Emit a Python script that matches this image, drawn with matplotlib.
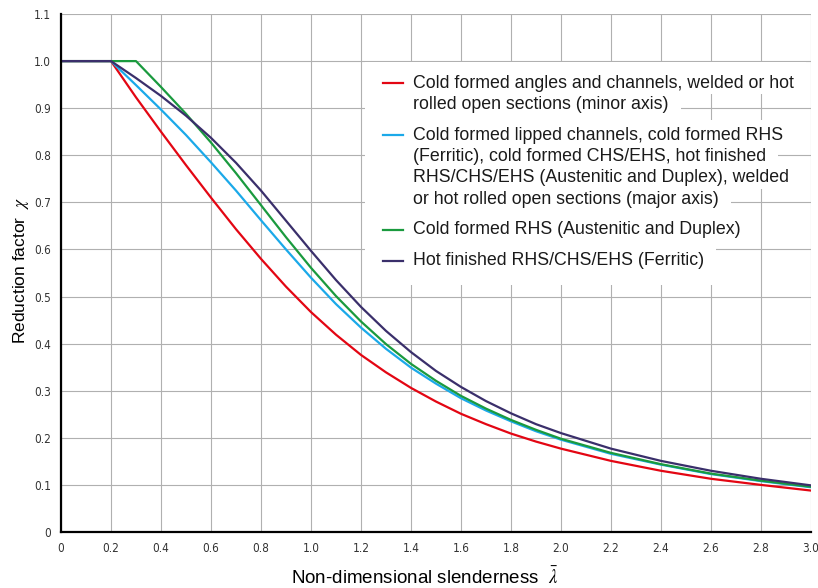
import matplotlib
matplotlib.use('Agg')
import matplotlib.pyplot as plt
from matplotlib.patches import Rectangle
from matplotlib.lines import Line2D
from matplotlib import font_manager

# slenderness values read along the x axis
lam = [0.0, 0.2, 0.3, 0.4, 0.5, 0.6, 0.7, 0.8, 0.9, 1.0, 1.1, 1.2, 1.3, 1.4, 1.5,
       1.6, 1.7, 1.8, 1.9, 2.0, 2.2, 2.4, 2.6, 2.8, 3.0]

# reduction factor for each curve
chi_red = [1.0, 1.0, 0.923, 0.850, 0.779, 0.710, 0.643, 0.580, 0.521, 0.467, 0.419,
           0.376, 0.339, 0.306, 0.277, 0.251, 0.229, 0.209, 0.192, 0.177, 0.151,
           0.130, 0.113, 0.100, 0.088]
chi_blue = [1.0, 1.0, 0.949, 0.897, 0.843, 0.785, 0.725, 0.662, 0.600, 0.540, 0.484,
            0.434, 0.389, 0.349, 0.315, 0.284, 0.258, 0.235, 0.214, 0.196, 0.166,
            0.143, 0.123, 0.108, 0.095]
chi_green = [1.0, 1.0, 1.0, 0.945, 0.888, 0.827, 0.762, 0.694, 0.626, 0.561, 0.501,
             0.447, 0.399, 0.357, 0.321, 0.289, 0.262, 0.238, 0.217, 0.198, 0.168,
             0.144, 0.124, 0.109, 0.096]
chi_purple = [1.0, 1.0, 0.964, 0.926, 0.884, 0.837, 0.784, 0.725, 0.661, 0.597, 0.535,
              0.478, 0.427, 0.382, 0.342, 0.308, 0.278, 0.252, 0.229, 0.210, 0.177,
              0.151, 0.130, 0.113, 0.099]

legend_lines = [
    ['Cold formed angles and channels, welded or hot',
     'rolled open sections (minor axis)'],
    ['Cold formed lipped channels, cold formed RHS',
     '(Ferritic), cold formed CHS/EHS, hot finished',
     'RHS/CHS/EHS (Austenitic and Duplex), welded',
     'or hot rolled open sections (major axis)'],
    ['Cold formed RHS (Austenitic and Duplex)'],
    ['Hot finished RHS/CHS/EHS (Ferritic)'],
]

x_ticks = [0, 0.2, 0.4, 0.6, 0.8, 1.0, 1.2, 1.4, 1.6, 1.8, 2.0, 2.2, 2.4, 2.6, 2.8, 3.0]
y_ticks = [0, 0.1, 0.2, 0.3, 0.4, 0.5, 0.6, 0.7, 0.8, 0.9, 1.0, 1.1]

series = [chi_red, chi_blue, chi_green, chi_purple]
colors = ['#e30613', '#1ba9e9', '#1a9a3e', '#3a2f6b']

installed = {f.name for f in font_manager.fontManager.ttflist}
narrow = 'Liberation Sans Narrow' if 'Liberation Sans Narrow' in installed else 'DejaVu Sans'
plt.rcParams['font.family'] = ['Liberation Sans', 'DejaVu Sans']
plt.rcParams['mathtext.fontset'] = 'stix'

W, H = 818, 588
fig = plt.figure(figsize=(W / 100, H / 100), dpi=100)
L, R, T, B = 61, 811, 14, 532
ax = fig.add_axes([L / W, 1 - B / H, (R - L) / W, (B - T) / H])

for ys, c in zip(series, colors):
    ax.plot(lam, ys, color=c, lw=1.6, zorder=2, solid_joinstyle='round')

ax.set_xlim(0, 3.0)
ax.set_ylim(0, 1.1)
ax.set_xticks(x_ticks)
ax.set_yticks(y_ticks)
fmt = lambda v: '0' if v == 0 else f'{v:.1f}'
tick_kw = dict(family=narrow, stretch='condensed', fontsize=8.5, color='#333333')
ax.set_xticklabels([fmt(v) for v in x_ticks], **tick_kw)
ax.set_yticklabels([fmt(v) for v in y_ticks], **tick_kw)
ax.tick_params(length=0, pad=7)
ax.set_axisbelow(True)
ax.grid(True, color='#b0b0b0', lw=0.8)
for s in ['top', 'right']:
    ax.spines[s].set_visible(False)
for s in ['left', 'bottom']:
    ax.spines[s].set_linewidth(1.6)
    ax.spines[s].set_color('black')

# hand-built legend / label layout in pixels
to_ax = lambda px, py: ((px - L) / (R - L), (B - py) / (B - T))

ax.set_ylabel(r'Reduction factor  $\chi$', fontsize=12.5, va='center')
ax.yaxis.set_label_coords(*to_ax(21, 0))
ax.yaxis.label.set_y(to_ax(0, 271)[1])
ax.set_xlabel(r'Non-dimensional slenderness  $\bar{\lambda}$', fontsize=13.5, va='center')
ax.xaxis.set_label_coords(*to_ax(425, 577))

text_x = 413
line_step = 21.5
entry_step = 30.5
y = 83
texts = []
centers = []
for lines, c in zip(legend_lines, colors):
    hx0, hy = to_ax(383, y)
    hx1, _ = to_ax(403, y)
    ax.add_line(Line2D([hx0, hx1], [hy, hy], transform=ax.transAxes, color=c, lw=1.6, zorder=4))
    for i, line in enumerate(lines):
        tx, ty = to_ax(text_x, y)
        t = ax.text(tx, ty, line, transform=ax.transAxes, fontsize=12.8, color='#1a1a1a',
                    va='center', ha='left', zorder=4)
        texts.append(t)
        centers.append(y)
        if i < len(lines) - 1:
            y += line_step
    y += entry_step

# white patches behind each text line so the grid shows only beside the text
fig.canvas.draw()
renderer = fig.canvas.get_renderer()
bounds = [62] + [(centers[i] + centers[i + 1]) / 2 for i in range(len(centers) - 1)] + [285]
for i, t in enumerate(texts):
    bb = t.get_window_extent(renderer)
    right_px = bb.x1 + 12
    x0, y0 = to_ax(365, bounds[i + 1])
    x1, y1 = to_ax(right_px, bounds[i])
    ax.add_patch(Rectangle((x0, y0), x1 - x0, y1 - y0, transform=ax.transAxes,
                           facecolor='white', edgecolor='none', zorder=1))

fig.savefig('out.png', dpi=100, facecolor='white')
